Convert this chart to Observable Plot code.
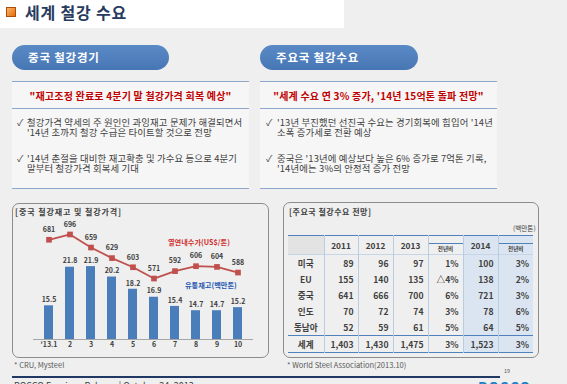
<!DOCTYPE html>
<html><head><meta charset="utf-8">
<script src="https://cdn.jsdelivr.net/npm/d3@7"></script>
<script src="https://cdn.jsdelivr.net/npm/@observablehq/plot@0.6"></script>
<style>
html,body{margin:0;padding:0;}
body{width:567px;height:384px;overflow:hidden;position:relative;background:#efefef;font-family:"Noto Sans CJK KR","Noto Sans",sans-serif;color:#404040;}
.a{position:absolute;white-space:nowrap;}
.pill{position:absolute;height:25px;border-radius:13px;background:linear-gradient(#5a8ac6,#4776b4);color:#fff;font-weight:bold;font-size:11.5px;letter-spacing:0.8px;line-height:25px;box-sizing:border-box;}
.hl{position:absolute;height:1px;background:#8ea6cc;}
.band{position:absolute;background:#f6f6f6;}
.quote{position:absolute;color:#c00000;font-weight:bold;font-size:10px;letter-spacing:0.2px;text-align:center;line-height:12px;}
.bl{position:absolute;font-size:9.4px;letter-spacing:0.15px;line-height:10px;white-space:nowrap;color:#404040;}
.box{position:absolute;border:1px solid #8c8c8c;border-radius:7px;box-sizing:border-box;}
.src{position:absolute;font-size:7.5px;color:#595959;white-space:nowrap;line-height:9px;}
.ct{position:absolute;font-size:8px;letter-spacing:0.5px;font-weight:bold;color:#404040;line-height:10px;white-space:nowrap;}
table.t{position:absolute;left:288px;top:235px;width:245px;border-collapse:collapse;table-layout:fixed;font-weight:bold;font-size:8.6px;color:#404040;}
table.t td, table.t th{padding:0;height:16px;line-height:16px;}
table.t th{height:18px;font-size:8.3px;font-weight:bold;}
</style></head>
<body>
<div class="a" style="left:0;top:0;width:344px;height:28px;background:#fff;"></div>
<div class="a" style="left:6px;top:7px;width:10px;height:10px;box-sizing:border-box;border:1px solid #a94f0b;background:linear-gradient(135deg,#fbb46a,#e46c0a);"></div>
<div class="a" style="left:25px;top:2px;font-size:16px;letter-spacing:0.8px;font-weight:bold;color:#283b5e;line-height:20px;">세계 철강 수요</div>

<div class="pill" style="left:12px;top:45px;width:157px;padding-left:16px;">중국 철강경기</div>
<div class="pill" style="left:260px;top:45px;width:158px;padding-left:16px;">주요국 철강수요</div>

<div class="band" style="left:12px;top:82px;width:237px;height:106px;"></div>
<div class="band" style="left:260px;top:82px;width:237px;height:106px;"></div>
<div class="hl" style="left:12px;top:81px;width:237px;"></div>
<div class="hl" style="left:260px;top:81px;width:237px;"></div>
<div class="hl" style="left:12px;top:108px;width:237px;"></div>
<div class="hl" style="left:260px;top:108px;width:237px;"></div>
<div class="hl" style="left:12px;top:188px;width:237px;"></div>
<div class="hl" style="left:260px;top:188px;width:237px;"></div>
<div class="quote" style="left:12px;top:90px;width:237px;">"재고조정 완료로 4분기 말 철강가격 회복 예상"</div>
<div class="quote" style="left:260px;top:90px;width:237px;">"세계 수요 연 3% 증가, '14년 15억톤 돌파 전망"</div>

<div class="bl" style="left:17px;top:117px;">✓</div>
<div class="bl" style="left:27px;top:117px;">철강가격 약세의 주 원인인 과잉재고 문제가 해결되면서</div>
<div class="bl" style="left:27px;top:127px;">'14년 초까지 철강 수급은 타이트할 것으로 전망</div>
<div class="bl" style="left:17px;top:153px;">✓</div>
<div class="bl" style="left:27px;top:153px;">'14년 춘절을 대비한 재고확충 및 가수요 등으로 4분기</div>
<div class="bl" style="left:27px;top:163px;">말부터 철강가격 회복세 기대</div>

<div class="bl" style="left:266px;top:117px;">✓</div>
<div class="bl" style="left:277px;top:117px;">'13년 부진했던 선진국 수요는 경기회복에 힘입어 '14년</div>
<div class="bl" style="left:277px;top:127px;">소폭 증가세로 전환 예상</div>
<div class="bl" style="left:266px;top:153px;">✓</div>
<div class="bl" style="left:277px;top:153px;">중국은 '13년에 예상보다 높은 6% 증가로 7억톤 기록,</div>
<div class="bl" style="left:277px;top:163px;">'14년에는 3%의 안정적 증가 전망</div>

<!-- left chart -->
<div class="box" style="left:12px;top:203px;width:257px;height:155px;"></div>
<div class="ct" style="left:15px;top:207px;letter-spacing:0.9px;">[중국 철강재고 및 철강가격]</div>
<div id="chart" class="a" style="left:12px;top:204px;width:257px;height:154px;"></div>
<div class="a" style="left:168px;top:237px;font-size:7.2px;font-weight:bold;color:#d03030;line-height:10px;">열연내수가(US$/톤)</div>
<div class="a" style="left:185px;top:280px;font-size:7.2px;font-weight:bold;color:#2457b0;line-height:10px;">유통재고(백만톤)</div>
<div class="src" style="left:14px;top:360px;">* CRU, Mysteel</div>

<!-- right table -->
<div class="box" style="left:283px;top:202px;width:256px;height:156px;"></div>
<div class="ct" style="left:289px;top:207px;">[주요국 철강수요 전망]</div>
<div class="a" style="left:513px;top:223px;font-size:6.6px;color:#404040;line-height:10px;">(백만톤)</div>
<div id="tbl"></div>
<div class="src" style="left:287px;top:360px;">* World Steel Association(2013.10)</div>

<!-- footer -->
<div class="a" style="left:12px;top:376px;width:488px;height:1.5px;background:#1f3864;"></div>
<div class="a" style="left:504px;top:367px;font-size:5.5px;color:#595959;">19</div>
<div class="a" style="left:14px;top:380px;font-size:9px;color:#404040;line-height:12px;">POSCO Earnings Release | October 24, 2013</div>
<div class="a" style="left:478px;top:379px;font-size:14px;font-weight:bold;color:#1f7fc4;line-height:16px;letter-spacing:1px;">POSCO</div>

<script>
// ---- chart data ----
const months = ["'13.1","2","3","4","5","6","7","8","9","10"];
const inventory = [15.5,21.8,21.9,20.2,18.2,16.9,15.4,14.7,14.7,15.2];
const prices = [681,696,659,629,603,571,592,606,604,588];
const invDomain = [10, 29.1];
const priceDomain = [398, 730];

// ---- table data ----
const countries = ["미국","EU","중국","인도","동남아","세계"];
const demand2011 = [89,155,641,70,52,1403];
const demand2012 = [96,140,666,72,59,1430];
const demand2013 = [97,135,700,74,61,1475];
const yoy2013 = ["1%","△4%","6%","3%","5%","3%"];
const demand2014 = [100,138,721,78,64,1523];
const yoy2014 = ["3%","2%","3%","6%","5%","3%"];
const tableYears = ["2011","2012","2013","전년비","2014","전년비"];

const rows = months.map((m,i)=>({m, inv: inventory[i], price: prices[i]}));
const W = 257, H = 154;
const common = {
  width: W, height: H, marginTop: 18, marginBottom: 19, marginLeft: 21, marginRight: 16,
  style: {background: "transparent", fontFamily: "'Noto Sans CJK KR', sans-serif", fontSize: "7px", fontWeight: "bold", color: "#404040", overflow: "visible"}
};
const xScale = {type: "band", domain: months, paddingInner: 0.585, paddingOuter: 0.37, label: null, tickSize: 0, tickPadding: 3};

const bars = Plot.plot({
  ...common,
  x: xScale,
  y: {domain: invDomain, axis: null},
  marks: [
    Plot.barY(rows, {x: "m", y1: invDomain[0], y2: "inv", fill: "#4a7ebb"}),
    Plot.ruleY([invDomain[0]], {stroke: "#a6a6a6"}),
    Plot.text(rows, {x: "m", y: "inv", text: d => d.inv.toFixed(1), dy: -6, fill: "#404040"})
  ]
});
const line = Plot.plot({
  ...common,
  x: {...xScale, axis: null},
  y: {domain: priceDomain, axis: null},
  marks: [
    Plot.line(rows, {x: "m", y: "price", stroke: "#c0504d", strokeWidth: 1.8}),
    Plot.dot(rows, {x: "m", y: "price", symbol: "square", r: 3.2, fill: "#c0504d", stroke: "none"}),
    Plot.text(rows, {x: "m", y: "price", text: "price", dy: -10, fill: "#404040"})
  ]
});
const holder = document.getElementById("chart");
for (const svg of [bars, line]) {
  svg.style.position = "absolute"; svg.style.left = "0"; svg.style.top = "0";
  holder.appendChild(svg);
}

// ---- table ----
const fmt = d3.format(",");
const widths = [36,34,35,35,35,35,35];
const vline = "1px solid #b8cce4";
const blue = "#4f81bd";
const shade = "#dbe5f1";
let html = '<table class="t"><colgroup>' + widths.map(w=>`<col style="width:${w}px">`).join("") + '</colgroup>';
html += `<tr style="border-top:1.5px solid ${blue};border-bottom:1px solid #c6d5e8;">`;
html += `<th style="background:#e3e3e3;"></th>`;
tableYears.forEach((y,i)=>{
  const bg = i>=4 ? `background:${shade};` : "";
  if (y === "전년비") {
    html += `<th style="border-left:${vline};${bg}vertical-align:bottom;"><div style="border-top:1px solid ${blue};height:10px;line-height:10px;font-size:5.6px;margin-top:7px;">${y}</div></th>`;
  } else {
    html += `<th style="border-left:${vline};${bg}">${y}</th>`;
  }
});
html += '</tr>';
countries.forEach((c,i)=>{
  const last = i === countries.length-1;
  const st = last ? `border-top:1px solid ${blue};border-bottom:1.5px solid ${blue};` : "";
  const vals = [fmt(demand2011[i]), fmt(demand2012[i]), fmt(demand2013[i]), yoy2013[i], fmt(demand2014[i]), yoy2014[i]];
  html += `<tr style="${st}"><td style="text-align:center;">${c}</td>`;
  vals.forEach((v,j)=>{
    const bg = j>=4 ? `background:${shade};` : "";
    html += `<td style="border-left:${vline};${bg}text-align:right;padding-right:4px;">${v}</td>`;
  });
  html += '</tr>';
});
html += '</table>';
document.getElementById("tbl").innerHTML = html;
</script>
</body></html>
